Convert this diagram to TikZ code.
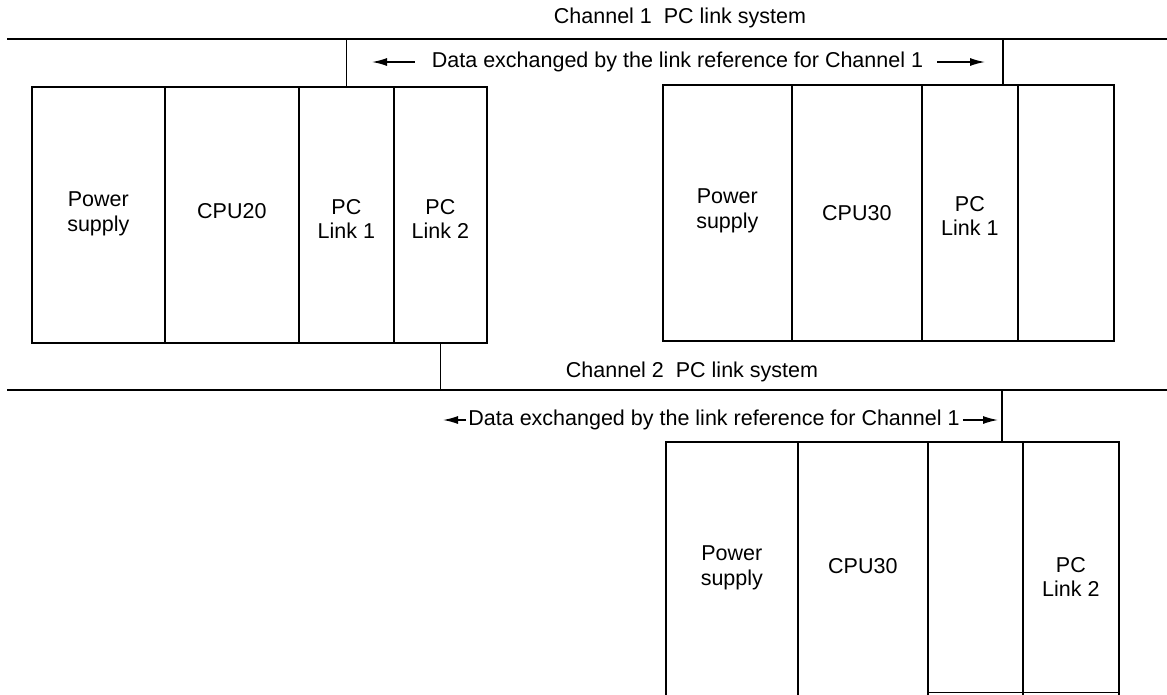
\documentclass[tikz,border=0pt]{standalone}
\usepackage{fontspec}
\setmainfont{Liberation Sans}
\usetikzlibrary{arrows.meta}
\begin{document}
\begin{tikzpicture}[x=1pt,y=-1pt,
  module/.style={draw, line width=1.7pt, inner sep=0pt, anchor=north west},
  bus/.style={line width=1.4pt},
  lbl/.style={font=\fontsize{21.5}{24.5}\selectfont, inner sep=0pt, align=center},
  darr/.style={-{Latex[length=15pt,width=8pt]}, line width=1.4pt}]
\useasboundingbox (0,0) rectangle (1167,694);

% ---------- Channel 1 bus ----------
\coordinate (b1L) at (7,39);
\coordinate (b1R) at (1167,39);
\draw[bus] (b1L) -- (b1R);
\node[lbl, anchor=base] (c1) at (680,23) {Channel 1\ \ PC link system};

% ---------- left rack ----------
\node[module, minimum width=133pt, minimum height=256pt] (ps1) at (31,86) {};
\node[module, minimum width=134pt, minimum height=256pt] (cpu1) at (164,86) {};
\node[module, minimum width=95pt, minimum height=256pt] (l11) at (298,86) {};
\node[module, minimum width=93pt, minimum height=256pt] (l12) at (393,86) {};
\node[lbl] at ([yshift=1pt]ps1.center) {Power\\supply};
\node[lbl] at ([yshift=4pt]cpu1.center) {CPU20};
\node[lbl] at ([yshift=-4pt]l11.center) {PC\\Link 1};
\node[lbl] at ([yshift=-4pt]l12.center) {PC\\Link 2};

% ---------- right rack ----------
\node[module, minimum width=129pt, minimum height=256pt] (ps2) at (662,84) {};
\node[module, minimum width=130pt, minimum height=256pt] (cpu2) at (791,84) {};
\node[module, minimum width=96pt, minimum height=256pt] (l21) at (921,84) {};
\node[module, minimum width=96pt, minimum height=256pt] (e2) at (1017,84) {};
\node[lbl] at ([yshift=2pt]ps2.center) {Power\\supply};
\node[lbl] at (cpu2.center) {CPU30};
\node[lbl] at ([yshift=-3pt]l21.center) {PC\\Link 1};

% drops to channel 1
\coordinate (d1a) at (l11.north |- b1L);
\draw[bus] (d1a) -- (l11.north);
\coordinate (d1b) at (1003,39);
\coordinate (d1c) at (1003,84);
\draw[bus] (d1b) -- (d1c);

% data arrow channel 1
\node[lbl] (t1) at (677.5,62) {Data exchanged by the link reference for Channel 1};
\coordinate (t1l) at (372,62);
\coordinate (t1r) at (985,62);
\draw[darr] ([xshift=-17pt]t1.west) -- (t1l);
\draw[darr] ([xshift=14pt]t1.east) -- (t1r);

% ---------- Channel 2 bus ----------
\coordinate (b2L) at (7,390);
\coordinate (b2R) at (1167,390);
\draw[bus] (b2L) -- (b2R);
\node[lbl, anchor=base] (c2) at (692,377) {Channel 2\ \ PC link system};
\coordinate (d2a) at (l12.south |- b2L);
\draw[bus] (l12.south) -- (d2a);

% ---------- bottom rack (cut by the lower edge) ----------
\node[module, minimum width=132pt, minimum height=262pt] (ps3) at (665,441) {};
\node[module, minimum width=130pt, minimum height=262pt] (cpu3) at (797,441) {};
\node[module, minimum width=95pt, minimum height=262pt] (e3) at (927,441) {};
\node[module, minimum width=96pt, minimum height=262pt] (l32) at (1022,441) {};
\draw[line width=1.7pt] (e3.west |- 0,692.5) -- (l32.east |- 0,692.5);
\node[lbl] at (ps3.center |- 0,568) {Power\\supply};
\node[lbl] at (cpu3.center |- 0,566) {CPU30};
\node[lbl] at (l32.center |- 0,577) {PC\\Link 2};

% drop to channel 2
\coordinate (d2b) at (1002,390);
\coordinate (d2c) at (1002,441);
\draw[bus] (d2b) -- (d2c);

% data arrow channel 2
\node[lbl] (t2) at (714,420) {Data exchanged by the link reference for Channel 1};
\coordinate (t2l) at (443,420);
\coordinate (t2r) at (998,420);
\draw[darr] ([xshift=-2pt]t2.west) -- (t2l);
\draw[darr] ([xshift=3pt]t2.east) -- (t2r);
\end{tikzpicture}
\end{document}
